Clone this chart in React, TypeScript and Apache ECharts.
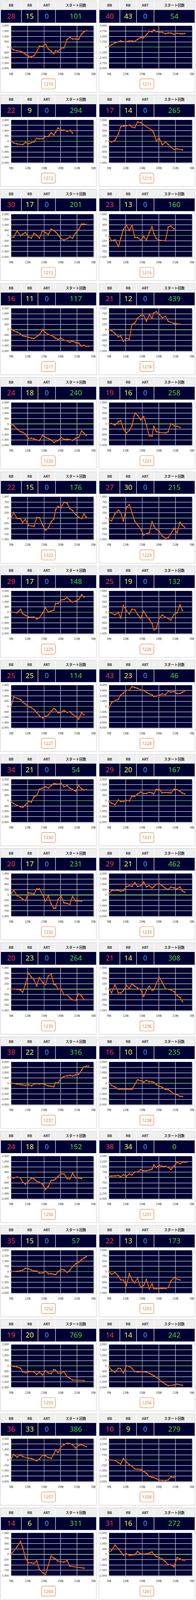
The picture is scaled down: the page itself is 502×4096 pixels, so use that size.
import React, { useEffect, useRef } from "react";
import * as echarts from "echarts";

// ---------------- data ----------------
const machineNumbers = ["1210","1211","1212","1213","1215","1216","1217","1218","1220","1221","1222","1223","1225","1226","1227","1228","1230","1231","1232","1233","1235","1236","1237","1238","1250","1251","1252","1253","1255","1256","1257","1258","1260","1261"];
const bbCounts = [28,40,22,17,30,23,16,21,24,19,22,27,29,25,25,43,34,29,20,29,20,21,38,16,24,38,35,22,19,14,36,10,14,31];
const rbCounts = [15,43,9,14,17,13,11,12,18,16,15,30,17,19,25,23,21,20,17,21,23,14,22,10,18,34,15,13,20,14,33,9,6,16];
const artCounts = [0,0,0,0,0,0,0,0,0,0,0,0,0,0,0,0,0,0,0,0,0,0,0,0,0,0,0,0,0,0,0,0,0,0];
const startCounts = [101,54,294,265,201,160,117,439,240,258,176,215,148,132,114,46,54,167,231,462,264,308,316,235,152,0,57,173,769,242,386,279,311,272];
const yAxisMax = [2000,5000,2000,1000,2000,1000,2000,1000,2000,1000,1000,1000,2000,1000,2000,4000,2000,2000,1000,2000,1000,1000,4000,2000,2000,3000,3000,1000,2000,2000,3000,3000,1000,2000];
const headerLabels = ["BB", "RB", "ART", "スタート回数"];
const hourLabelSuffix = "時";

// sample times (hours) shared by all machines
const sampleHours = [9.0, 9.45, 10.07, 10.7, 11.1, 11.6, 12.13, 12.67, 13.15, 13.65, 14.15, 14.72, 15.26, 15.76, 16.28, 16.78, 17.09, 17.55, 18.07, 18.62, 19.2, 19.7, 20.18, 20.75, 21.3, 21.83, 22.27, 22.68, 23.1];

type V = number | null;
const diff1210: V[] = [-90,-260,-350,-400,-490,-680,-860,-910,-815,-465,90,65,270,-170,-370,-630,-335,-400,-120,-75,715,900,760,760,740,1225,1430,1520];
const diff1211: V[] = [230,510,975,1250,1440,1250,1250,1440,1440,1320,1790,2250,2200,2880,3710,3570,4060,3640,3480,3480,3130,3300,3300,3000,3230,3130,3110,3200];
const diff1212: V[] = [0,-160,-240,null,-330,-110,-250,-130,-60,280,225,235,460,440,790,600,840,1250,1045,1045,920,1035,775];
const diff1213: V[] = [0,-30,40,345,680,710,725,760,670,640,905,885,765,null,null,510,385,15,145,-170,-35,-150,-260,-390,-360,null,-405];
const diff1215: V[] = [-160,-170,430,-20,110,290,-135,-250,200,35,-260,450,260,90,600,460,340,70,-315,-415,-300,-135,-250,225,560,1070,1070,1020];
const diff1216: V[] = [-45,-250,-200,-520,-150,280,495,230,480,-95,-95,-225,-50,-200,140,410,90,-150,-225,null,-250,395,440,310];
const diff1217: V[] = [100,-110,-215,-400,-585,-640,-710,-790,-830,-650,-480,10,-280,-450,-550,-675,-800,-910,-800,-1000,-1045,-1180,-1055,-1225,-1260,-1550,-1470,-1550,-1560];
const diff1218: V[] = [0,-50,-175,-340,-300,-550,-410,-450,250,310,540,665,665,400,705,525,790,840,725,560,630,390,null,295,null,250];
const diff1220: V[] = [-90,-145,-505,-730,-790,-990,-1360,-1350,-1400,-1515,-1560,-1100,-1290,-1380,-1515,-1750,-1660,-1570,-1270,-1460,-1440,-1480,-1550,-1350,-1290,-650,-875,-1090];
const diff1221: V[] = [0,20,-55,100,150,-250,-430,-310,-75,505,405,185,345,-60,-565,-575,-115,-360,-405,null,-430,-370,10,-85,-115,-170];
const diff1222: V[] = [10,260,-20,-35,-205,-60,-345,null,-390,25,15,-330,-570,-470,-175,-40,380,545,475,740,695,445,350,165,40,-25,190,40];
const diff1223: V[] = [-80,-130,200,370,255,-140,495,630,250,-145,-315,-510,-800,-730,-690,-165,-365,-540,-625,-840,-950,-925,-740,-485,-690,-190,-345,-435];
const diff1225: V[] = [20,null,-55,290,-135,-290,-440,null,-450,-640,-515,-80,405,20,110,200,820,820,1145,1190,1370,1135,965,1045,1190,1640,1425];
const diff1226: V[] = [0,null,-115,-10,-275,315,80,-80,145,120,-105,-285,55,-170,-320,-530,-830,-770,-275,-130,-235,null,-360,-100,-30,345,80];
const diff1227: V[] = [0,875,765,640,405,235,-10,-110,-290,-575,-875,-1080,-920,-810,-460,-180,-305,-605,-550,-370,-560,-495,-740,-945,-1190,-585,-785];
const diff1228: V[] = [-270,700,1035,1370,2110,2495,3010,3055,3730,3550,3415,3100,3010,2650,2340,2200,1890,1930,2090,2340,2225,2830,2700,2790,2430,2430,2675,2920];
const diff1230: V[] = [-90,-280,-450,-585,-630,-395,-65,-135,360,485,1070,1170,1315,1170,1405,1605,1585,1540,1640,1315,1405,1160,1055,875,1405,1100,990,1045];
const diff1231: V[] = [-90,-225,-370,65,-90,-65,20,-20,425,415,630,820,665,675,785,720,620,1065,1045,730,775,755,710,1080,1035,875,710,640];
const diff1232: V[] = [15,230,-40,-120,-210,-275,95,70,45,270,280,10,-300,-50,-430,-635,-625,-220,-55,-375,-410,-450,-75,-280,null,-305];
const diff1233: V[] = [155,405,440,405,350,395,775,865,800,1160,785,845,1200,755,855,640,755,1000,1035,855,620,505,720,650,550,740,350,245];
const diff1235: V[] = [0,null,-10,-50,-145,215,755,570,435,145,535,310,210,615,695,220,195,-15,15,-265,-265,-420,-500,-525,-225,-330,-495];
const diff1236: V[] = [10,-175,190,-180,-185,-75,175,25,250,140,55,-35,-345,-55,135,-60,-35,250,545,310,15,null,-40,-115,-300,-400,-590];
const diff1237: V[] = [20,null,-155,-245,-290,-405,-270,-470,-135,-90,-135,-90,-270,-495,-560,-630,90,45,920,1260,1370,1485,1350,1595,1685,2450,3055,3215,3215];
const diff1238: V[] = [65,-190,-360,-560,null,-560,null,null,-575,null,325,245,110,270,145,145,90,-135,-270,-380,-585,-605,-775,-1010,-1080,-1225,-1245];
const diff1250: V[] = [0,-55,35,-45,-450,-640,-360,-90,-125,-360,-460,-640,-1125,-845,-280,-260,-135,90,350,335,-110,-145,405,-35,-35,-110];
const diff1251: V[] = [135,200,220,270,100,370,170,505,335,760,760,1095,945,945,1045,1180,1770,1400,1735,1550,1550,1435,1130,1600,2125,1940,2160,2160,2175];
const diff1252: V[] = [15,null,50,135,185,470,405,220,85,100,-200,-185,65,-285,-285,-390,-420,0,305,255,-100,185,710,1115,1280,1705,1920,2110];
const diff1253: V[] = [0,-125,-40,-220,-385,-395,-660,-90,-390,-525,-310,-740,-660,-365,-810,-570,-800,-810,-790,-795,-785,-750,-445,-275,-345,-395];
const diff1255: V[] = [0,-55,-110,-215,-560,-650,null,-530,-575,-800,-605,-875,-460,-675,-730,-350,-405,-685,-685,-550,-1020,-1170,-1335,null,null,null,-1380];
const diff1256: V[] = [-100,-395,-595,-225,-270,-675,0,-55,-225,-540,-585,-550,-560,-605,-685,-845,-930,-1065,-1280,-1515,-1720,-1865,null,-1800,-1710,null,-1830];
const diff1257: V[] = [135,775,405,740,490,null,270,220,35,-120,135,690,605,355,235,810,1415,1060,1855,2160,2360,2325,2160,1705,2075,2160,2005,1890];
const diff1258: V[] = [35,null,-50,-370,-575,200,-270,-640,-875,-1265,-1300,-1315,-1620,-1840,-2310,-2430,-2480,-2600,-2835,-2870,-2885,-2815,-2360,-2445];
const diff1260: V[] = [0,null,340,595,310,-175,-400,-405,-435,-315,-725,-870,-950,-515,-80,-185,-230,-330,null,-370,-300,-560,null,null,null,null,-655];
const diff1261: V[] = [235,350,855,495,235,-100,45,-100,-65,-45,270,35,10,45,110,215,-20,-215,-325,-460,-685,-1000,-980,-1170,-325,-440,-530,-550];

const diffSeries: V[][] = [diff1210,diff1211,diff1212,diff1213,diff1215,diff1216,diff1217,diff1218,diff1220,diff1221,diff1222,diff1223,diff1225,diff1226,diff1227,diff1228,diff1230,diff1231,diff1232,diff1233,diff1235,diff1236,diff1237,diff1238,diff1250,diff1251,diff1252,diff1253,diff1255,diff1256,diff1257,diff1258,diff1260,diff1261];

// ---------------- layout / style ----------------
const S = 0.76;
const COL_X = [2, 334];
const ROW_Y0 = 2.7;
const ROW_PITCH = 317.3;
const BOX_W = 323;
const BOX_H = 308;
const DIVS = [70, 126, 185];
const CELL_CX = [35.5, 98, 155.5, 253.5];
const NAVY = "#000033";
const LINE_ORANGE = "#e2661d";
const FONT = "'Noto Sans CJK JP', 'Noto Sans', sans-serif";
const VALUE_COLORS = ["#e8374f", "#f0f05a", "#3d9be0", "#40d040"];
const VLINES = [
  { h: 12, color: "#ffffff", w: 1 },
  { h: 15, color: "#d4d4f4", w: 1 },
  { h: 18, color: "#8c8cac", w: 2 },
  { h: 21, color: "#ffffff", w: 1 },
];

function buildOption() {
  const grids: any[] = [];
  const xAxes: any[] = [];
  const yAxes: any[] = [];
  const series: any[] = [];
  const elements: any[] = [];

  machineNumbers.forEach((num, i) => {
    const col = i % 2;
    const row = Math.floor(i / 2);
    const bx = COL_X[col];
    const by = ROW_Y0 + ROW_PITCH * row;
    const X = (v: number) => (bx + v) * S;
    const Y = (v: number) => (by + v) * S;
    const m = yAxisMax[i];

    // outer box
    elements.push({ type: "rect", shape: { x: X(0), y: Y(0), width: BOX_W * S, height: BOX_H * S }, style: { fill: "none", stroke: "#cfcfcf", lineWidth: 1.2 } });
    // header and value rows
    elements.push({ type: "rect", shape: { x: X(1), y: Y(1), width: 321 * S, height: 30 * S }, style: { fill: "#efefef" } });
    elements.push({ type: "rect", shape: { x: X(1), y: Y(31), width: 321 * S, height: 43 * S }, style: { fill: NAVY } });
    DIVS.forEach((d) => {
      elements.push({ type: "line", shape: { x1: X(d), y1: Y(1), x2: X(d), y2: Y(74) }, style: { stroke: "#ffffff", lineWidth: 1.2 } });
    });
    headerLabels.forEach((lab, c) => {
      elements.push({ type: "text", x: X(CELL_CX[c]), y: Y(15.5), style: { text: lab, fill: "#333333", fontSize: 11.5 * S, fontWeight: "bold", fontFamily: FONT, align: "center", verticalAlign: "middle" } });
    });
    const vals = [bbCounts[i], rbCounts[i], artCounts[i], startCounts[i]];
    vals.forEach((v, c) => {
      elements.push({ type: "text", x: X(CELL_CX[c]), y: Y(51), style: { text: String(v), fill: VALUE_COLORS[c], fontSize: 24 * S, fontFamily: "'Noto Sans', sans-serif", align: "center", verticalAlign: "middle" } });
    });
    // machine number box
    elements.push({ type: "rect", shape: { x: X(137.5), y: Y(263), width: 47 * S, height: 34 * S, r: 5 * S }, style: { fill: "#ffffff", stroke: "#dc8a4c", lineWidth: 1.2 } });
    elements.push({ type: "text", x: X(161), y: Y(280.5), style: { text: num, fill: "#e0743a", fontSize: 14 * S, fontFamily: "'Noto Sans', sans-serif", align: "center", verticalAlign: "middle" } });

    grids.push({
      left: X(33.5), top: Y(84), width: 279.5 * S, height: 143.5 * S,
      show: true, backgroundColor: NAVY, borderWidth: 0,
      shadowColor: "rgba(0,0,0,0.3)", shadowBlur: 3, shadowOffsetX: 2, shadowOffsetY: 2,
    });
    xAxes.push({
      gridIndex: i, type: "value", min: 9, max: 24, interval: 3,
      axisLine: { show: false, onZero: false },
      axisTick: { show: true, length: 3, lineStyle: { color: "#c4c4c4" } },
      splitLine: { show: false },
      axisLabel: { showMinLabel: true, showMaxLabel: true, formatter: (v: number) => `${v % 24}${hourLabelSuffix}`, fontSize: 9.5 * S, color: "#444444", margin: 10, fontFamily: FONT },
    });
    yAxes.push({
      gridIndex: i, type: "value", min: -m, max: m, interval: m / 4,
      axisLine: { show: false },
      axisTick: { show: true, length: 3, lineStyle: { color: "#c4c4c4" } },
      splitLine: { show: true, showMinLine: false, showMaxLine: false, lineStyle: { color: "#ffffff", width: 1 } },
      axisLabel: { fontSize: 9 * S, color: "#333333", margin: 6, fontFamily: "'Noto Sans', sans-serif" },
    });

    VLINES.forEach((vl) => {
      series.push({
        type: "line", xAxisIndex: i, yAxisIndex: i, silent: true, symbol: "none", z: 1,
        data: [[vl.h, -m], [vl.h, m]],
        lineStyle: { color: vl.color, width: vl.w },
      });
    });
    series.push({
      type: "line", xAxisIndex: i, yAxisIndex: i, silent: true, symbol: "none", z: 2,
      data: [[9, 0], [24, 0]],
      lineStyle: { color: "#6ccf3a", width: 1.3 },
    });
    const pts: number[][] = [];
    diffSeries[i].forEach((v, j) => {
      if (v !== null && v !== undefined) pts.push([sampleHours[j], v]);
    });
    series.push({
      type: "line", xAxisIndex: i, yAxisIndex: i, z: 3,
      data: pts, symbol: "circle", symbolSize: 4, showSymbol: true,
      lineStyle: { color: LINE_ORANGE, width: 2.3 },
      itemStyle: { color: LINE_ORANGE, borderWidth: 0 },
    });
  });

  return {
    animation: false,
    backgroundColor: "#ffffff",
    grid: grids,
    xAxis: xAxes,
    yAxis: yAxes,
    series,
    graphic: { elements },
  };
}

export default function App() {
  const ref = useRef<HTMLDivElement>(null);
  useEffect(() => {
    if (!ref.current) return;
    const chart = echarts.init(ref.current, null, { renderer: "svg" });
    chart.setOption(buildOption() as any);
    return () => chart.dispose();
  }, []);
  return <div ref={ref} style={{ position: "absolute", left: 0, top: 0, width: 502, height: 4096 }} />;
}
